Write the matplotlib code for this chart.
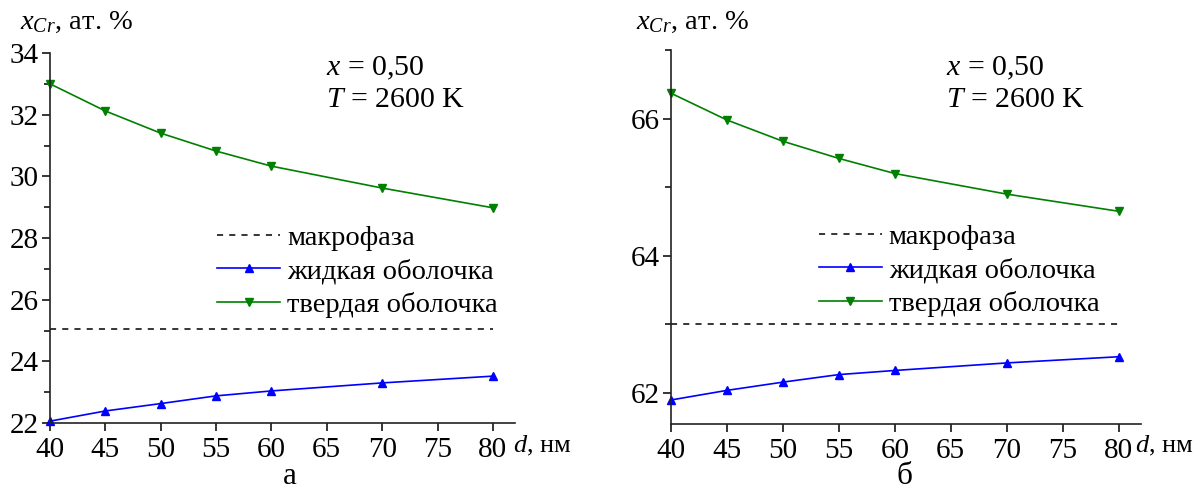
import matplotlib
matplotlib.use("Agg")
import matplotlib.pyplot as plt
from matplotlib.ticker import MultipleLocator

plt.rcParams['font.family'] = ['Liberation Serif', 'DejaVu Serif']
plt.rcParams['mathtext.fontset'] = 'custom'
plt.rcParams['mathtext.rm'] = 'Liberation Serif'
plt.rcParams['mathtext.it'] = 'Liberation Serif:italic'

# data
d = [40, 45, 50, 55, 60, 70, 80]

# panel а
liquid_a = [22.06, 22.39, 22.63, 22.88, 23.04, 23.30, 23.52]
solid_a = [33.0, 32.12, 31.40, 30.82, 30.33, 29.62, 28.98]
macro_a = 25.05

# panel б
liquid_b = [61.90, 62.04, 62.16, 62.27, 62.33, 62.44, 62.53]
solid_b = [66.37, 65.98, 65.67, 65.42, 65.20, 64.90, 64.65]
macro_b = 63.0

labels = ['макрофаза', 'жидкая оболочка', 'твердая оболочка']
FS = 20.5
TFS = 21

W, H = 1194, 491
fig = plt.figure(figsize=(W / 100, H / 100), dpi=100)


def make_panel(rect, liquid, solid, macro, ylim, leg_xy, note_xy, dlab_x, ylab_x, letter, letter_x):
    ax = fig.add_axes(rect)
    ax.plot([d[0], d[-1]], [macro, macro], color='black', lw=1.1,
            dashes=(4, 4), label=labels[0])
    ax.plot(d, liquid, color='#0000ff', lw=1.2, marker='^', ms=6,
            label=labels[1], clip_on=False)
    ax.plot(d, solid, color='#008000', lw=1.2, marker='v', ms=6,
            label=labels[2], clip_on=False)

    ax.set_xlim(40, 82)
    ax.set_ylim(*ylim)
    ax.set_xticks(range(40, 81, 5))
    ax.yaxis.set_major_locator(MultipleLocator(2))
    ax.yaxis.set_minor_locator(MultipleLocator(1))
    ax.spines['top'].set_visible(False)
    ax.spines['right'].set_visible(False)
    for s in ('left', 'bottom'):
        ax.spines[s].set_linewidth(1.2)
        ax.spines[s].set_color('#222222')
    ax.tick_params(direction='out', length=6, width=1.1, labelsize=TFS, pad=2)
    ax.tick_params(which='minor', direction='out', length=4, width=1.1)
    ax.tick_params(axis='x', pad=4)

    ax.legend(loc='upper left', bbox_to_anchor=leg_xy, frameon=False,
              fontsize=FS, handlelength=2.2, handletextpad=0.25,
              labelspacing=0.26, borderpad=0, borderaxespad=0)

    ax.text(note_xy[0], note_xy[1], '$x$ = 0,50', transform=ax.transAxes,
            fontsize=FS + 1, va='center', ha='left')
    ax.text(note_xy[0], note_xy[1] - 0.086, '$T$ = 2600 K',
            transform=ax.transAxes, fontsize=FS + 1, va='center', ha='left')

    # axis captions
    fig.text(dlab_x / W, 1 - 446 / H, '$d$, нм', fontsize=FS - 1.5,
             ha='left', va='center')
    fig.text(ylab_x / W, 1 - 22 / H, '$x_{Cr}$, ат. %', fontsize=FS,
             ha='left', va='center')
    fig.text(letter_x / W, 1 - 476 / H, letter, fontsize=FS + 2,
             ha='center', va='center')
    return ax


make_panel([50 / W, 1 - 423 / H, 465 / W, 370 / H], liquid_a, solid_a, macro_a,
           (22, 34), (0.36, 0.535), (0.594, 0.959), 513, 20, 'а', 290)
make_panel([671 / W, 1 - 424 / H, 470 / W, 374 / H], liquid_b, solid_b, macro_b,
           (61.55, 67), (0.315, 0.535), (0.585, 0.952), 1135, 636, 'б', 905)

fig.savefig('out.png', dpi=100)
